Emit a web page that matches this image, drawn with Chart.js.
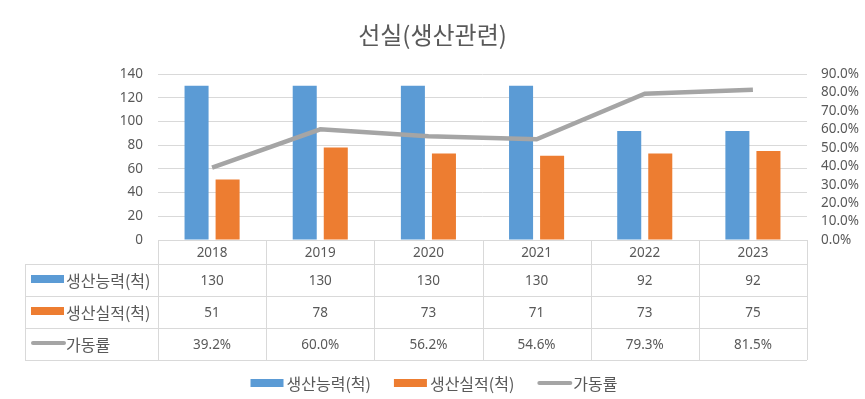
<!DOCTYPE html>
<html>
<head>
<meta charset="utf-8">
<script src="https://cdn.jsdelivr.net/npm/chart.js@4/dist/chart.umd.min.js"></script>
<style>
  body { margin: 0; background: #fff; }
  #wrap { width: 865px; height: 399px; }
</style>
</head>
<body>
<div id="wrap"><canvas id="chartSeonsil" width="865" height="399"></canvas></div>
<script>
const years = ["2018", "2019", "2020", "2021", "2022", "2023"];
const capacity = [130, 130, 130, 130, 92, 92];
const production = [51, 78, 73, 71, 73, 75];
const utilization = [39.2, 60.0, 56.2, 54.6, 79.3, 81.5];

const seriesNames = ["생산능력(척)", "생산실적(척)", "가동률"];
const colors = ["#5B9BD5", "#ED7D31", "#A5A5A5"];

const textColor = "#595959";
const gridColor = "#d9d9d9";
const numFont = '13.5px "Noto Sans", "Noto Sans CJK KR", sans-serif';
const korFont = '16px "Noto Sans CJK KR", "Noto Sans", sans-serif';

// rows of the data table under the plot
const rowLines = [240, 264, 296, 328, 360];
const tableLeft = 25;

function drawKey(ctx, i, x, y){
    if(i < 2){
        ctx.fillStyle = colors[i];
        ctx.fillRect(x, y - 4, 33, 8);
    }else{
        ctx.strokeStyle = colors[i];
        ctx.lineWidth = 4;
        ctx.lineCap = "round";
        ctx.beginPath();
        ctx.moveTo(x + 2, y);
        ctx.lineTo(x + 33, y);
        ctx.stroke();
    }
}

const tablePlugin = {
    id: "dataTable",
    afterDraw(chart){
        const ctx = chart.ctx;
        const xs = chart.scales.x;
        const area = chart.chartArea;
        const half = (area.right - area.left) / years.length / 2;

        ctx.save();
        ctx.strokeStyle = gridColor;
        ctx.lineWidth = 1;
        ctx.beginPath();
        // horizontal lines
        ctx.moveTo(area.left, rowLines[0] + 0.5);
        ctx.lineTo(area.right, rowLines[0] + 0.5);
        for(let r = 1; r < rowLines.length; r++){
            ctx.moveTo(tableLeft, rowLines[r] + 0.5);
            ctx.lineTo(area.right, rowLines[r] + 0.5);
        }
        // vertical lines
        ctx.moveTo(tableLeft + 0.5, rowLines[1]);
        ctx.lineTo(tableLeft + 0.5, rowLines[4]);
        for(let i = 0; i <= years.length; i++){
            const x = Math.round(area.left + i * half * 2) + 0.5;
            ctx.moveTo(x, rowLines[0]);
            ctx.lineTo(x, rowLines[4]);
        }
        ctx.stroke();

        ctx.fillStyle = textColor;
        ctx.textAlign = "center";
        ctx.textBaseline = "middle";
        ctx.font = numFont;
        const rows = [
            years,
            capacity.map(String),
            production.map(String),
            utilization.map(v => v.toFixed(1) + "%")
        ];
        rows.forEach((row, r) => {
            const y = (rowLines[r] + rowLines[r + 1]) / 2 + 1;
            row.forEach((txt, i) => {
                ctx.fillText(txt, xs.getPixelForValue(i), y);
            });
        });

        // row headers with legend keys
        ctx.textAlign = "left";
        seriesNames.forEach((name, i) => {
            const y = (rowLines[i + 1] + rowLines[i + 2]) / 2;
            drawKey(ctx, i, 31, y - 1);
            ctx.fillStyle = textColor;
            ctx.font = korFont;
            ctx.fillText(name, 66, y + 1);
        });

        // legend at the bottom
        ctx.font = korFont;
        const widths = seriesNames.map(n => ctx.measureText(n).width);
        const itemW = widths.map(w => 33 + 4 + w);
        const gap = 22;
        const total = itemW.reduce((a, b) => a + b, 0) + gap * 2;
        let x = (chart.width - total) / 2 + 2;
        const ly = 383;
        seriesNames.forEach((name, i) => {
            drawKey(ctx, i, x, ly);
            ctx.fillStyle = textColor;
            ctx.fillText(name, x + 36, ly + 1);
            x += itemW[i] + gap;
        });
        ctx.restore();
    }
};

document.addEventListener("DOMContentLoaded", () => {
    const ctx = document.getElementById("chartSeonsil");

    new Chart(ctx, {
        data: {
            labels: years,
            datasets: [
                {
                    type: "line",
                    label: seriesNames[2],
                    data: utilization,
                    yAxisID: "y1",
                    borderColor: colors[2],
                    borderWidth: 4.5,
                    pointRadius: 0,
                    tension: 0,
                    order: 0
                },
                {
                    type: "bar",
                    label: seriesNames[0],
                    data: capacity,
                    yAxisID: "y",
                    backgroundColor: colors[0],
                    categoryPercentage: 0.574,
                    barPercentage: 0.774,
                    order: 1
                },
                {
                    type: "bar",
                    label: seriesNames[1],
                    data: production,
                    yAxisID: "y",
                    backgroundColor: colors[1],
                    categoryPercentage: 0.574,
                    barPercentage: 0.774,
                    order: 1
                }
            ]
        },
        options: {
            responsive: false,
            animation: false,
            events: [],
            layout: { padding: { left: 0, right: 0, top: 0, bottom: 39 } },
            plugins: {
                legend: { display: false },
                tooltip: { enabled: false },
                title: {
                    display: true,
                    text: "선실(생산관련)",
                    color: textColor,
                    font: { family: '"Noto Sans CJK KR", sans-serif', size: 24, weight: "normal" },
                    padding: { top: 20, bottom: 25.2 }
                }
            },
            scales: {
                x: {
                    position: "bottom",
                    grid: { display: false },
                    border: { display: false },
                    ticks: { display: false },
                    afterFit: s => { s.height = 120; }
                },
                y: {
                    position: "left",
                    min: 0,
                    max: 140,
                    ticks: {
                        stepSize: 20,
                        padding: 15,
                        autoSkip: false,
                        color: textColor,
                        font: { family: '"Noto Sans", sans-serif', size: 13.5 }
                    },
                    grid: { color: gridColor, drawTicks: false },
                    border: { display: false },
                    afterFit: s => { s.width = 158; }
                },
                y1: {
                    position: "right",
                    min: 0,
                    max: 90,
                    ticks: {
                        stepSize: 10,
                        padding: 14,
                        autoSkip: false,
                        color: textColor,
                        font: { family: '"Noto Sans", sans-serif', size: 13.5 },
                        callback: v => v.toFixed(1) + "%"
                    },
                    grid: { display: false, drawTicks: false },
                    border: { display: false },
                    afterFit: s => { s.width = 58; }
                }
            }
        },
        plugins: [tablePlugin]
    });
});
</script>
</body>
</html>
